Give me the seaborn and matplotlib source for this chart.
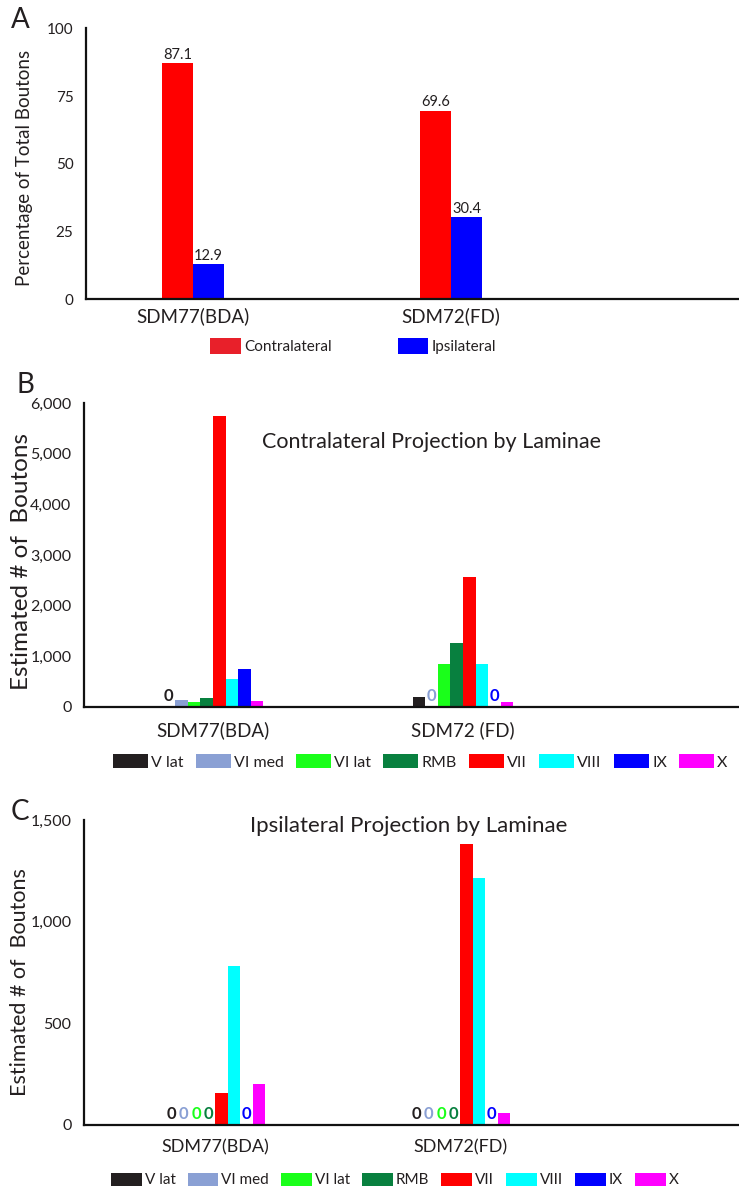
import matplotlib
matplotlib.use("Agg")
import matplotlib.pyplot as plt
from matplotlib.patches import Patch
from matplotlib.ticker import FuncFormatter
from matplotlib.transforms import offset_copy
import numpy as np
import pandas as pd
import seaborn as sns

# ---------------- data ----------------
samples_a = ["SDM77(BDA)", "SDM72(FD)"]
pct_contralateral = [87.1, 69.6]
pct_ipsilateral = [12.9, 30.4]
side_labels = ["Contralateral", "Ipsilateral"]
side_colors = ["#ff0000", "#0000ff"]

laminae = ["V lat", "VI med", "VI lat", "RMB", "VII", "VIII", "IX", "X"]
lamina_colors = ["#231f20", "#8aa0d4", "#1aff1a", "#08803f",
                 "#ff0000", "#00ffff", "#0000ff", "#ff00ff"]

samples_b = ["SDM77(BDA)", "SDM72 (FD)"]
contra_sdm77 = [0, 140, 105, 180, 5750, 550, 745, 120]
contra_sdm72 = [200, 0, 855, 1265, 2560, 855, 0, 100]

samples_c = ["SDM77(BDA)", "SDM72(FD)"]
ipsi_sdm77 = [0, 0, 0, 0, 157, 780, 0, 203]
ipsi_sdm72 = [0, 0, 0, 0, 1380, 1215, 0, 60]

# ---------------- style ----------------
sns.set_theme(style="white")
plt.rcParams["font.family"] = ["Lato", "DejaVu Sans"]
TXT = "#231f20"

W, H = 739, 1195
fig = plt.figure(figsize=(W / 100, H / 100), dpi=100)


def fx(px):
    return px / W


def fy(py):
    return 1 - py / H


def style_axes(ax, tick_fs, xpad):
    for s in ["top", "right"]:
        ax.spines[s].set_visible(False)
    for s in ["left", "bottom"]:
        ax.spines[s].set_color("#111111")
        ax.spines[s].set_linewidth(1.6)
    ax.tick_params(axis="y", direction="out", length=5, width=1.5,
                   color="#111111", labelsize=tick_fs, labelcolor=TXT, pad=4)
    ax.tick_params(axis="x", length=0, labelcolor=TXT, pad=xpad)
    ax.set_xlabel("")
    ax.set_ylabel("")
    ax.grid(False)


def zero_labels(ax, colors, fs):
    trans = offset_copy(ax.transData, fig=fig, x=0, y=2.5, units="points")
    for cont, col in zip(ax.containers, colors):
        for bar in cont:
            if bar.get_height() == 0:
                ax.text(bar.get_x() + bar.get_width() / 2, 0, "0",
                        transform=trans, ha="center", va="bottom",
                        fontsize=fs, fontweight="bold", color=col,
                        clip_on=False)


# ---------------- Panel A ----------------
axA = fig.add_axes([fx(86), fy(299.3), fx(739 - 86), fy(28.3) - fy(299.3)])
dfA = pd.DataFrame({
    "sample": samples_a * 2,
    "side": [side_labels[0]] * 2 + [side_labels[1]] * 2,
    "value": pct_contralateral + pct_ipsilateral,
})
sns.barplot(data=dfA, x="sample", y="value", hue="side", hue_order=side_labels,
            palette=side_colors, saturation=1, width=0.24, gap=0,
            legend=False, ax=axA, linewidth=0)
axA.set_ylim(0, 100)
axA.set_yticks([0, 25, 50, 75, 100])
axA.set_xlim(-107 / 258, 546 / 258)
style_axes(axA, 11, 6)
axA.tick_params(axis="x", labelsize=13.5)
for cont in axA.containers:
    axA.bar_label(cont, fmt="%.1f", padding=1, fontsize=10.5, color=TXT)

fig.text(fx(20), fy(20), "A", fontsize=20, color=TXT, ha="center", va="center")
fig.text(fx(25), fy(168), "Percentage of Total Boutons", rotation=90,
         fontsize=13.5, color=TXT, ha="center", va="center")

legA = fig.legend(handles=[Patch(facecolor=c, edgecolor="none") for c in ["#e8202a", "#0000ff"]],
                  labels=side_labels, loc="center left",
                  bbox_to_anchor=(fx(210), fy(346)), ncol=2, frameon=False,
                  fontsize=11, handlelength=2.0, handleheight=1.2,
                  handletextpad=0.25, columnspacing=4.3, borderpad=0,
                  borderaxespad=0)
for t in legA.get_texts():
    t.set_color(TXT)


# ---------------- Panel B ----------------
axB = fig.add_axes([fx(84), fy(707), fx(739 - 84), fy(403) - fy(707)])
dfB = pd.DataFrame({
    "sample": [samples_b[0]] * 8 + [samples_b[1]] * 8,
    "lamina": laminae * 2,
    "value": contra_sdm77 + contra_sdm72,
})
sns.barplot(data=dfB, x="sample", y="value", hue="lamina", hue_order=laminae,
            palette=lamina_colors, saturation=1, width=0.403, gap=0,
            legend=False, ax=axB, linewidth=0)
axB.set_ylim(0, 6000)
axB.set_yticks(np.arange(0, 6001, 1000))
axB.yaxis.set_major_formatter(FuncFormatter(lambda v, p: f"{int(v):,}"))
axB.set_xlim(-129 / 250, 526 / 250)
style_axes(axB, 11.5, 10)
axB.tick_params(axis="x", labelsize=13.5)
zero_labels(axB, lamina_colors, 12)

fig.text(fx(25), fy(385), "B", fontsize=20, color=TXT, ha="center", va="center")
fig.text(fx(22), fy(562), "Estimated # of  Boutons", rotation=90,
         fontsize=17.5, color=TXT, ha="center", va="center")
fig.text(fx(262), fy(442), "Contralateral Projection by Laminae",
         fontsize=15.5, color=TXT, ha="left", va="center")

legB = fig.legend(handles=[Patch(facecolor=c, edgecolor="none") for c in lamina_colors],
                  labels=laminae, loc="center left",
                  bbox_to_anchor=(fx(113), fy(762)), ncol=8, frameon=False,
                  fontsize=11.5, handlelength=2.2, handleheight=1.0,
                  handletextpad=0.2, columnspacing=0.75, borderpad=0,
                  borderaxespad=0)
for t in legB.get_texts():
    t.set_color(TXT)


# ---------------- Panel C ----------------
axC = fig.add_axes([fx(84), fy(1125), fx(739 - 84), fy(820) - fy(1125)])
dfC = pd.DataFrame({
    "sample": [samples_c[0]] * 8 + [samples_c[1]] * 8,
    "lamina": laminae * 2,
    "value": ipsi_sdm77 + ipsi_sdm72,
})
sns.barplot(data=dfC, x="sample", y="value", hue="lamina", hue_order=laminae,
            palette=lamina_colors, saturation=1, width=0.41, gap=0,
            legend=False, ax=axC, linewidth=0)
axC.set_ylim(0, 1500)
axC.set_yticks([0, 500, 1000, 1500])
axC.yaxis.set_major_formatter(FuncFormatter(lambda v, p: f"{int(v):,}"))
axC.set_xlim(-131 / 245, 524 / 245)
style_axes(axC, 11.5, 10)
axC.tick_params(axis="x", labelsize=13)
zero_labels(axC, lamina_colors, 12)

fig.text(fx(20), fy(812), "C", fontsize=20, color=TXT, ha="center", va="center")
fig.text(fx(20), fy(982), "Estimated # of  Boutons", rotation=90,
         fontsize=15.5, color=TXT, ha="center", va="center")
fig.text(fx(250), fy(826), "Ipsilateral Projection by Laminae",
         fontsize=16, color=TXT, ha="left", va="center")

legC = fig.legend(handles=[Patch(facecolor=c, edgecolor="none") for c in lamina_colors],
                  labels=laminae, loc="center left",
                  bbox_to_anchor=(fx(111), fy(1180)), ncol=8, frameon=False,
                  fontsize=11, handlelength=2.0, handleheight=0.95,
                  handletextpad=0.2, columnspacing=0.8, borderpad=0,
                  borderaxespad=0)
for t in legC.get_texts():
    t.set_color(TXT)

fig.savefig("out.png", dpi=100, facecolor="white")
